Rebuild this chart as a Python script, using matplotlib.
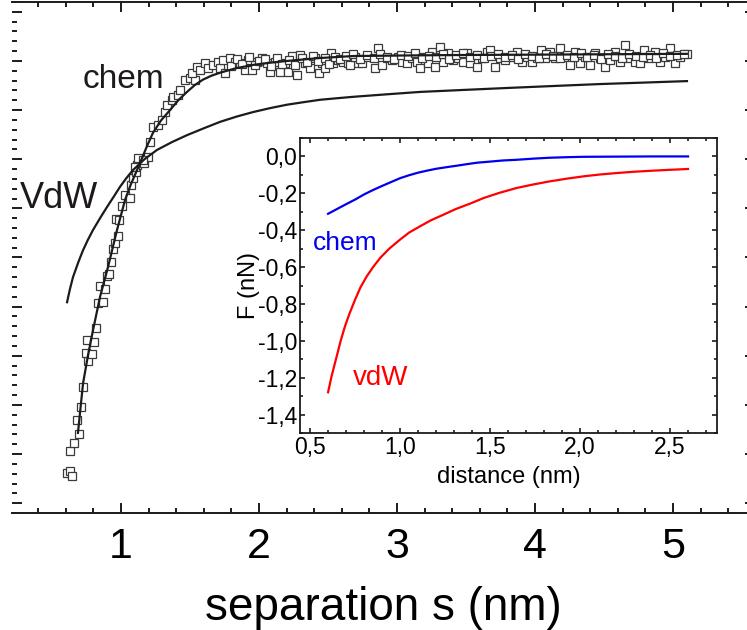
import matplotlib
matplotlib.use("Agg")
import matplotlib.pyplot as plt
from matplotlib.ticker import MultipleLocator, FixedLocator, NullFormatter

plt.rcParams['font.family'] = ['Liberation Sans', 'DejaVu Sans']

# ---- measured signal vs separation (arbitrary units) ----
sep_data = [0.609, 0.630, 0.645, 0.630, 0.659, 0.696, 0.681, 0.710, 0.725, 0.761,
            0.746, 0.790, 0.754, 0.804, 0.819, 0.833, 0.870, 0.848, 0.884, 0.899,
            0.913, 0.928, 0.942, 0.957, 0.978, 0.964, 0.986, 1.007, 1.029, 1.065,
            1.072, 1.087, 1.109, 1.116, 1.138, 1.167, 1.196, 1.101, 1.123, 1.159,
            1.210, 1.232, 1.268, 1.297, 1.319, 1.333, 1.370, 1.377, 1.413, 1.428,
            1.464, 1.500, 1.536, 1.514, 1.551, 1.572, 1.609, 1.630, 1.667, 1.703,
            1.717, 1.739, 1.754, 1.790, 1.826, 1.862, 1.899, 1.920, 1.949, 1.986,
            2.022, 2.058, 2.080, 2.116, 2.152, 2.188, 2.210, 2.239, 2.275, 2.297,
            2.333, 2.370, 2.406, 2.435, 2.457, 2.478, 2.522, 2.536, 2.572, 2.609,
            2.645, 2.681, 2.717,
            1.80, 1.84, 1.88, 1.93, 1.97, 2.00, 2.04, 2.09, 2.13, 2.17,
            2.22, 2.26, 2.31, 2.35, 2.39, 2.43, 2.48, 2.51, 2.55, 2.59,
            2.659, 2.696, 2.746, 2.783, 2.841, 2.862, 2.891, 2.928, 2.964, 3.007,
            3.036, 3.072, 3.109, 3.145, 3.167, 3.188, 3.225, 3.254, 3.275, 3.312,
            3.333, 3.370, 3.406, 3.442, 3.478, 3.507, 3.529, 3.580, 3.616, 3.652,
            3.674, 3.710, 3.746, 3.783, 3.833, 3.870, 3.906, 3.942, 3.978, 4.014,
            4.043, 4.072, 4.109, 4.145, 4.181, 4.210, 4.254, 4.290, 4.326, 4.362,
            4.399, 4.435, 4.471, 4.507, 4.543, 4.580, 4.616, 4.652, 4.688, 4.725,
            4.761, 4.790, 4.819, 4.870, 4.906, 4.942, 4.978, 5.014, 5.051, 5.101,
            2.63, 2.68, 2.73, 2.78, 2.83, 2.88, 2.93, 2.98, 3.03, 3.08,
            3.13, 3.18, 3.23, 3.28, 3.33, 3.38, 3.43, 3.48, 3.53, 3.58,
            3.63, 3.68, 3.73, 3.78, 3.83, 3.88, 3.93, 3.98, 4.03, 4.08,
            4.13, 4.18, 4.23, 4.28, 4.33, 4.38, 4.43, 4.48, 4.53, 4.58,
            4.63, 4.68, 4.73, 4.78, 4.83, 4.88, 4.93, 4.98, 5.03, 5.08]
sig_data = [-9.39, -9.35, -9.45, -8.94, -8.78, -8.59, -8.31, -8.04, -7.64, -7.11,
            -6.95, -6.97, -6.68, -6.72, -6.44, -5.93, -5.91, -5.58, -5.64, -5.38,
            -5.34, -5.09, -4.83, -4.70, -4.56, -4.22, -4.24, -3.95, -3.73, -3.79,
            -3.52, -3.38, -3.26, -3.12, -2.99, -3.08, -2.95, -3.16, -2.97, -3.01,
            -2.65, -2.34, -2.30, -2.20, -2.04, -1.89, -1.79, -1.73, -1.69, -1.59,
            -1.38, -1.34, -1.38, -1.24, -1.12, -1.18, -1.04, -1.14, -1.08, -1.02,
            -1.14, -0.98, -1.24, -0.94, -1.02, -1.04, -1.18, -0.98, -1.18, -1.02,
            -0.94, -1.04, -1.22, -1.02, -1.22, -1.04, -1.22, -0.90, -1.28, -0.88,
            -1.04, -1.14, -0.94, -1.24, -1.04, -1.14, -0.84, -1.04, -0.98, -1.02,
            -1.04, -0.94, -1.04,
            -1.10, -0.96, -1.06, -0.92, -1.08, -1.00, -0.96, -1.10, -0.94, -1.06,
            -0.98, -1.08, -0.94, -1.02, -0.90, -1.00, -0.94, -1.06, -0.92, -0.96,
            -1.08, -0.92, -1.04, -0.92, -1.14, -0.73, -1.08, -0.94, -0.98, -0.92,
            -1.02, -1.04, -0.94, -1.02, -1.14, -0.92, -1.04, -0.81, -1.12, -0.71,
            -1.02, -0.84, -0.98, -0.94, -1.02, -0.84, -1.04, -1.12, -0.94, -0.81,
            -0.77, -1.12, -0.94, -0.98, -0.92, -0.81, -1.02, -0.92, -1.02, -0.94,
            -0.77, -0.94, -0.81, -0.94, -0.73, -0.92, -1.08, -0.81, -1.04, -0.92,
            -1.08, -0.84, -0.94, -1.12, -0.98, -0.81, -1.02, -0.67, -0.94, -1.02,
            -1.04, -0.77, -0.94, -0.81, -1.02, -0.92, -0.73, -1.04, -0.92, -0.86,
            -0.90, -0.86, -0.95, -0.88, -0.93, -0.85, -0.91, -0.96, -0.87, -0.90,
            -0.84, -0.94, -0.89, -0.92, -0.86, -0.95, -0.88, -0.83, -0.91, -0.87,
            -0.94, -0.89, -0.85, -0.92, -0.88, -0.96, -0.86, -0.90, -0.93, -0.85,
            -0.89, -0.94, -0.87, -0.91, -0.84, -0.92, -0.88, -0.95, -0.86, -0.90,
            -0.93, -0.85, -0.89, -0.92, -0.87, -0.94, -0.84, -0.90, -0.88, -0.86]

# ---- fitted curves (main panel) ----
sep_chem_fit = [0.688, 0.705, 0.725, 0.760, 0.797, 0.848, 0.906, 0.971, 1.029, 1.070,
                1.116, 1.152, 1.190, 1.232, 1.290, 1.355, 1.415, 1.478, 1.535, 1.594,
                1.655, 1.717, 1.830, 1.957, 2.080, 2.203, 2.442, 2.681, 3.00, 3.38,
                3.75, 4.11, 4.60, 5.10]
sig_chem_fit = [-8.57, -8.10, -7.56, -7.00, -6.48, -5.80, -5.19, -4.44, -3.83, -3.52,
                -3.22, -2.98, -2.72, -2.46, -2.21, -2.00, -1.80, -1.63, -1.49, -1.38,
                -1.30, -1.24, -1.15, -1.08, -1.035, -1.00, -0.94, -0.90, -0.89, -0.88,
                -0.875, -0.87, -0.862, -0.855]
sep_vdw_fit = [0.609, 0.630, 0.652, 0.690, 0.725, 0.760, 0.797, 0.850, 0.899, 0.950,
               0.993, 1.040, 1.087, 1.170, 1.261, 1.370, 1.478, 1.600, 1.717, 1.840,
               1.957, 2.080, 2.203, 2.320, 2.442, 2.560, 2.681, 2.920, 3.167, 3.480,
               3.797, 4.130, 4.471, 4.790, 5.101]
sig_vdw_fit = [-5.91, -5.64, -5.40, -5.10, -4.85, -4.64, -4.44, -4.19, -3.97, -3.75,
               -3.56, -3.38, -3.22, -3.00, -2.81, -2.65, -2.51, -2.37, -2.24, -2.13,
               -2.04, -1.96, -1.89, -1.84, -1.79, -1.76, -1.73, -1.68, -1.63, -1.59,
               -1.55, -1.51, -1.47, -1.44, -1.41]

# ---- force components (inset) ----
dist_chem = [0.60, 0.65, 0.70, 0.75, 0.80, 0.85, 0.90, 0.95, 1.00, 1.05,
             1.10, 1.15, 1.20, 1.26, 1.317, 1.37, 1.428, 1.50, 1.57, 1.65,
             1.74, 1.833, 1.93, 2.017, 2.206, 2.40, 2.60]
force_chem = [-0.311, -0.285, -0.259, -0.234, -0.206, -0.182, -0.160, -0.139, -0.118, -0.102,
              -0.088, -0.077, -0.067, -0.058, -0.050, -0.042, -0.034, -0.028, -0.022, -0.018,
              -0.012, -0.007, -0.004, -0.002, -0.001, 0.000, 0.000]
dist_vdw = [0.60, 0.62, 0.648, 0.67, 0.694, 0.72, 0.75, 0.78, 0.815, 0.85,
            0.889, 0.94, 1.00, 1.05, 1.111, 1.17, 1.241, 1.31, 1.389, 1.463,
            1.55, 1.648, 1.74, 1.833, 1.93, 2.019, 2.11, 2.204, 2.30, 2.389,
            2.49, 2.60]
force_vdw = [-1.279, -1.19, -1.084, -1.00, -0.921, -0.85, -0.777, -0.71, -0.650, -0.60,
             -0.551, -0.50, -0.451, -0.413, -0.379, -0.347, -0.316, -0.285, -0.256, -0.226,
             -0.198, -0.171, -0.152, -0.135, -0.120, -0.108, -0.098, -0.090, -0.083, -0.078,
             -0.073, -0.068]

main_xticks = [1, 2, 3, 4, 5]
inset_xticks = [0.5, 1.0, 1.5, 2.0, 2.5]
inset_yticks = [0.0, -0.2, -0.4, -0.6, -0.8, -1.0, -1.2, -1.4]

ink = '#1e1a1a'

fig = plt.figure(figsize=(7.47, 6.30), dpi=100)
ax = fig.add_axes([12 / 747, 1 - 513 / 630, 743 / 747, 511 / 630])

ax.plot(sep_chem_fit, sig_chem_fit, color=ink, lw=1.6, zorder=3)
ax.plot(sep_vdw_fit, sig_vdw_fit, color=ink, lw=1.6, zorder=3)
ax.plot(sep_data, sig_data, ls='none', marker='s', ms=5.4, mfc='white',
        mec='#3a3a3a', mew=0.9, zorder=2)

ax.set_xlim(0.21, 5.594)
ax.set_ylim(-10.2, 0.2)
ax.xaxis.set_major_locator(FixedLocator(main_xticks))
ax.xaxis.set_minor_locator(MultipleLocator(0.2))
ax.yaxis.set_major_locator(MultipleLocator(1.0))
ax.yaxis.set_minor_locator(MultipleLocator(0.2))
ax.yaxis.set_major_formatter(NullFormatter())
ax.spines['left'].set_visible(False)
for s in ('top', 'bottom', 'right'):
    ax.spines[s].set_linewidth(1.4)
    ax.spines[s].set_color(ink)
ax.tick_params(which='both', direction='in', top=True, right=True, left=True,
               color=ink, width=1.4)
ax.tick_params(which='major', length=7)
ax.tick_params(which='minor', length=3.5)
ax.tick_params(axis='x', which='major', labelsize=31, pad=10)
ax.set_xticklabels([str(t) for t in main_xticks])
ax.set_xlabel('separation s (nm)', fontsize=33, labelpad=14, color='black')

ax.text(0.725, -1.55, 'chem', fontsize=24, color=ink, ha='left', va='baseline')
ax.text(0.268, -3.99, 'VdW', fontsize=26, color=ink, ha='left', va='baseline')

# ---- inset ----
ins = fig.add_axes([300 / 747, 1 - 433 / 630, 417 / 747, 295 / 630])
ins.set_facecolor('white')
ins.plot(dist_chem, force_chem, color='#0000ee', lw=1.6)
ins.plot(dist_vdw, force_vdw, color='#ff0000', lw=1.6)
ins.set_xlim(0.444, 2.761)
ins.set_ylim(-1.5, 0.1)
ins.xaxis.set_major_locator(FixedLocator(inset_xticks))
ins.xaxis.set_minor_locator(MultipleLocator(0.1))
ins.yaxis.set_major_locator(FixedLocator(inset_yticks))
ins.yaxis.set_minor_locator(MultipleLocator(0.1))
ins.set_xticklabels([f'{t:.1f}'.replace('.', ',') for t in inset_xticks])
ins.set_yticklabels([f'{t:.1f}'.replace('.', ',').replace('-0,0', '0,0') for t in inset_yticks])
for s in ins.spines.values():
    s.set_linewidth(1.3)
    s.set_color(ink)
ins.tick_params(which='both', direction='in', top=True, right=True,
                color=ink, width=1.2, labelsize=16.5, pad=2)
ins.tick_params(which='major', length=3.5)
ins.tick_params(which='minor', length=2)
ins.set_xlabel('distance (nm)', fontsize=17, labelpad=5)
ins.set_ylabel('F (nN)', fontsize=17)
ins.yaxis.set_label_coords(-0.095, 0.5)
ins.text(0.517, -0.506, 'chem', fontsize=19, color='#0000ee', ha='left', va='baseline')
ins.text(0.739, -1.237, 'vdW', fontsize=20, color='#ff0000', ha='left', va='baseline')

fig.savefig('out.png', dpi=100)
